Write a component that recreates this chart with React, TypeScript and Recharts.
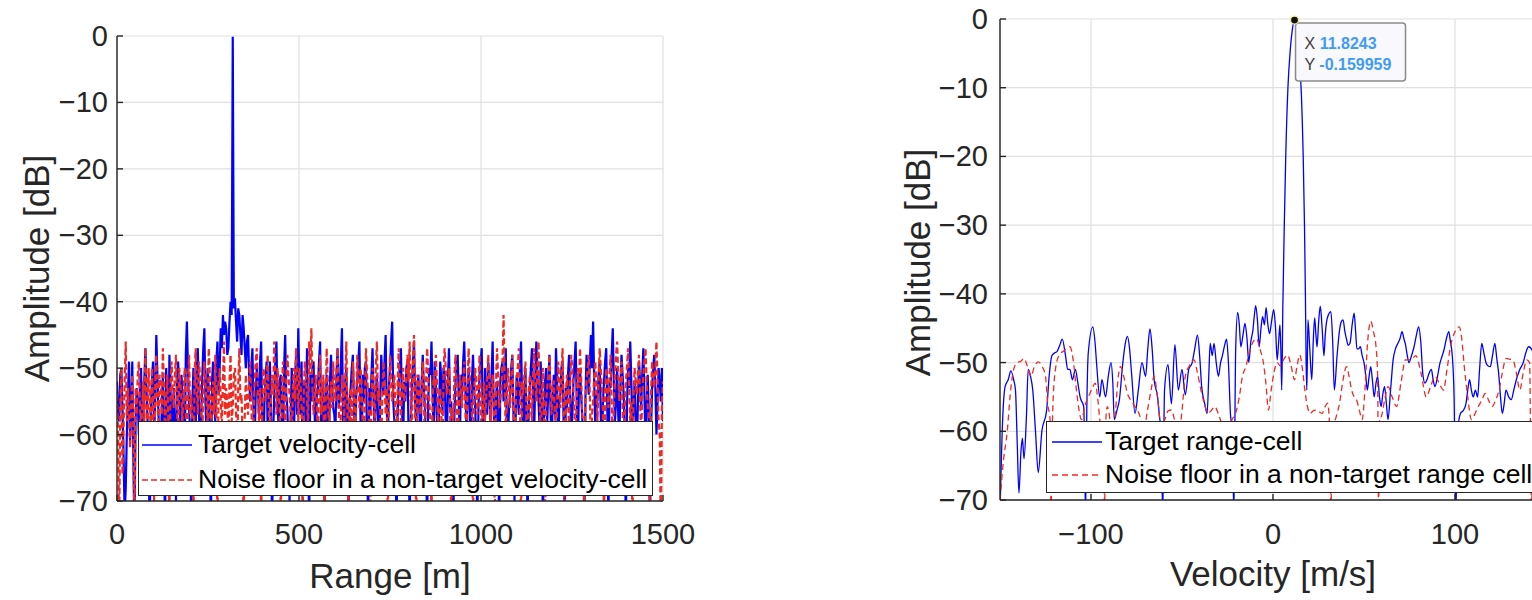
import React from 'react';
import { LineChart, Line, XAxis, YAxis, CartesianGrid, ReferenceDot, Legend, Label } from 'recharts';

// ---------- axis ticks ----------
const AMP_TICKS = [0, -10, -20, -30, -40, -50, -60, -70];
const RANGE_TICKS = [0, 500, 1000, 1500];
const VEL_TICKS = [-100, 0, 100];
const RANGE_STEP = 6; // metres between the even range bins; odd bins sit half a step later

// ---------- left panel: amplitude vs range (dB), even bins 0,6,12,...,1500 m ----------
const targetVelocityCell = [
  -52, -58, -50, -63, -68, -54, -61, -49, -75, -53,
  -60, -50, -66, -47, -58, -75, -52, -61, -45, -57,
  -63, -51, -75, -55, -48, -62, -53, -70, -49, -59,
  -54, -64, -43, -56, -75, -50, -60, -47, -66, -52,
  -44, -61, -53, -75, -49, -58, -46, -50, -47, -45,
  -44, -47, -40, -0.1, -39.5, -46, -42, -48, -44, -50,
  -45, -55, -47, -62, -50, -57, -46, -66, -52, -60,
  -49, -75, -54, -46, -59, -51, -63, -45, -56, -70,
  -50, -61, -48, -44, -57, -66, -52, -47, -75, -55,
  -49, -62, -53, -46, -58, -75, -51, -64, -48, -56,
  -60, -47, -54, -44, -66, -50, -75, -53, -48, -61,
  -52, -46, -63, -55, -49, -75, -57, -47, -60, -51,
  -65, -48, -54, -45, -61, -50, -43, -58, -75, -52,
  -47, -62, -55, -49, -75, -53, -46, -59, -51, -64,
  -48, -56, -75, -50, -46, -60, -53, -67, -49, -57,
  -51, -63, -47, -55, -75, -52, -48, -61, -54, -46,
  -59, -50, -66, -48, -56, -75, -51, -47, -62, -53,
  -49, -58, -46, -64, -52, -75, -50, -55, -47, -61,
  -54, -48, -70, -51, -57, -46, -63, -50, -75, -53,
  -47, -60, -46, -55, -49, -75, -52, -58, -48, -62,
  -51, -47, -65, -54, -49, -75, -56, -48, -60, -52,
  -46, -63, -50, -57, -75, -48, -54, -45, -43, -59,
  -55, -49, -66, -52, -47, -75, -53, -44, -58, -50,
  -61, -48, -54, -75, -50, -46, -59, -52, -64, -49,
  -56, -47, -62, -51, -75, -53, -48, -60, -50, -55,
  -58,
];
// odd bins 3,9,15,...,1497 m
const targetVelocityCellOdd = [
  -57, -51, -56, -72, -60, -49, -56, -64, -58, -55,
  -54, -59, -52, -53, -65, -56, -49, -54, -51, -62,
  -56, -60, -50, -65, -53, -57, -59, -52, -54, -51,
  -58, -48, -50, -60, -55, -57, -49, -55, -58, -47,
  -55, -50, -62, -52, -55, -49, -54, -44, -42, -43,
  -48, -43, -42, -41, -43, -41, -45, -42, -47, -46,
  -51, -50, -56, -54, -53, -49, -58, -55, -49, -54,
  -56, -60, -49, -55, -52, -57, -50, -54, -62, -58,
  -55, -52, -57, -52, -49, -53, -58, -60, -51, -50,
  -57, -54, -49, -60, -52, -56, -58, -52, -53, -57,
  -51, -56, -49, -57, -52, -59, -55, -50, -56, -54,
  -49, -58, -51, -50, -61, -53, -51, -55, -54, -58,
  -55, -52, -49, -56, -53, -46, -55, -62, -57, -50,
  -56, -52, -50, -60, -58, -49, -55, -53, -57, -52,
  -53, -62, -55, -51, -54, -49, -58, -56, -52, -50,
  -58, -52, -56, -62, -57, -50, -55, -51, -49, -53,
  -54, -57, -52, -53, -61, -56, -49, -58, -50, -57,
  -53, -51, -56, -55, -58, -52, -49, -53, -59, -56,
  -50, -56, -58, -54, -50, -55, -54, -59, -56, -50,
  -54, -52, -51, -59, -55, -58, -50, -53, -56, -55,
  -57, -52, -55, -50, -58, -53, -51, -54, -57, -49,
  -55, -53, -54, -62, -54, -51, -49, -50, -52, -54,
  -51, -57, -55, -49, -56, -52, -48, -52, -55, -57,
  -53, -51, -60, -56, -53, -52, -56, -58, -55, -52,
  -51, -54, -56, -57, -60, -50, -53, -55, -52, -50,
];

const noiseVelocityCell = [
  -54, -75, -50, -59, -46, -53, -62, -51, -75, -57,
  -49, -61, -52, -47, -64, -55, -50, -70, -48, -58,
  -53, -47, -60, -51, -75, -49, -56, -48, -63, -52,
  -58, -50, -66, -48, -54, -75, -47, -57, -51, -62,
  -49, -55, -47, -64, -52, -48, -75, -50, -59, -46,
  -53, -61, -48, -56, -50, -66, -47, -54, -75, -51,
  -57, -49, -63, -52, -47, -58, -75, -50, -55, -48,
  -62, -51, -46, -57, -53, -75, -49, -60, -48, -54,
  -66, -50, -47, -58, -52, -75, -49, -55, -46, -44,
  -57, -51, -63, -48, -54, -75, -47, -60, -52, -49,
  -55, -47, -64, -51, -58, -46, -75, -53, -49, -61,
  -48, -56, -52, -67, -47, -54, -75, -50, -59, -46,
  -53, -62, -49, -57, -75, -48, -55, -51, -64, -47,
  -58, -50, -54, -48, -46, -61, -45, -75, -52, -57,
  -49, -63, -47, -55, -75, -51, -48, -59, -53, -66,
  -47, -54, -50, -75, -58, -48, -62, -51, -56, -49,
  -64, -47, -53, -75, -50, -57, -48, -61, -52, -55,
  -48, -59, -51, -75, -47, -56, -53, -42, -60, -50,
  -56, -48, -63, -52, -47, -75, -54, -49, -60, -51,
  -58, -47, -55, -46, -62, -50, -75, -53, -48, -57,
  -52, -64, -49, -56, -47, -75, -51, -59, -48, -54,
  -61, -50, -47, -57, -75, -52, -48, -63, -55, -49,
  -58, -47, -53, -75, -50, -56, -48, -62, -51, -46,
  -55, -49, -67, -52, -47, -58, -75, -50, -54, -48,
  -60, -51, -47, -56, -75, -49, -53, -46, -58, -75,
  -52,
];
const noiseVelocityCellOdd = [
  -60, -56, -66, -52, -58, -57, -55, -60, -53, -51,
  -55, -56, -58, -53, -50, -59, -55, -52, -55, -51,
  -57, -53, -55, -58, -52, -54, -51, -56, -50, -55,
  -53, -56, -52, -57, -58, -51, -53, -49, -56, -54,
  -52, -59, -51, -55, -57, -56, -53, -55, -52, -57,
  -55, -52, -58, -51, -56, -53, -55, -60, -57, -55,
  -52, -55, -58, -49, -54, -53, -57, -51, -52, -56,
  -55, -54, -52, -50, -57, -53, -55, -52, -51, -57,
  -53, -55, -52, -50, -56, -54, -51, -59, -51, -53,
  -54, -55, -52, -57, -51, -56, -52, -55, -56, -53,
  -51, -55, -57, -53, -52, -57, -54, -60, -53, -56,
  -52, -50, -59, -55, -51, -58, -54, -53, -50, -55,
  -56, -54, -52, -53, -56, -51, -53, -57, -52, -54,
  -53, -55, -51, -52, -56, -49, -56, -51, -55, -52,
  -54, -52, -51, -58, -55, -53, -52, -56, -57, -51,
  -50, -52, -55, -56, -51, -54, -57, -53, -52, -56,
  -53, -51, -56, -54, -52, -53, -55, -56, -58, -51,
  -52, -54, -55, -53, -51, -55, -49, -52, -54, -53,
  -52, -55, -56, -50, -54, -52, -51, -57, -54, -56,
  -51, -52, -50, -53, -55, -57, -55, -51, -53, -52,
  -57, -55, -52, -51, -56, -54, -55, -52, -50, -57,
  -55, -53, -51, -58, -55, -50, -54, -57, -51, -53,
  -52, -50, -56, -54, -53, -51, -55, -56, -48, -51,
  -52, -56, -57, -50, -53, -55, -54, -52, -51, -55,
  -54, -49, -52, -57, -54, -51, -50, -52, -60, -56,
];

// ---------- right panel: amplitude vs velocity, [velocity m/s, amplitude dB] ----------
const targetRangeCell: [number, number][] = [
  [-150, -72], [-148.5, -58], [-147.2, -53.5], [-145.5, -52.5], [-144, -51.2], [-142.5, -52.5], [-141.5, -54],
  [-140.5, -62], [-139.6, -69], [-138.5, -63], [-137.7, -61], [-136.8, -64], [-135.5, -58], [-134.5, -51],
  [-133.2, -52], [-132, -54], [-130.5, -60], [-129, -66], [-127, -60], [-124.4, -57], [-123, -52], [-121.5, -49],
  [-120, -48.6], [-118.7, -48.4], [-117.2, -47.5], [-115.8, -46.6], [-114, -49], [-112.8, -51], [-111.6, -51],
  [-110.2, -52.5], [-108.6, -51], [-107.2, -53], [-106, -55], [-104, -56.4], [-103, -72], [-102.2, -55],
  [-101.5, -48.6], [-99, -44.8], [-97.8, -47], [-96.8, -50.6], [-95.2, -55], [-94, -52.5], [-92, -55],
  [-90.5, -52], [-89, -50], [-88, -53], [-87.2, -58.3], [-85.8, -57], [-84.4, -55.4], [-82.5, -50], [-81, -47],
  [-80, -46.2], [-78.8, -48], [-77.7, -51.6], [-75.8, -57.4], [-74, -54], [-72, -50], [-70, -52], [-68.8, -48],
  [-67.6, -45.1], [-66.4, -48], [-65.3, -52.5], [-63.4, -55], [-62.3, -58], [-61.5, -60], [-60.6, -72],
  [-59.6, -54], [-57.7, -50.3], [-55.8, -56], [-53.9, -47.4], [-52, -54], [-50, -51], [-48.2, -54.7],
  [-46.3, -51], [-44.4, -50], [-43, -48], [-41.5, -46], [-40.3, -49], [-39.2, -53.5], [-37.5, -56],
  [-36.2, -57.4], [-35.3, -52], [-34.5, -47.2], [-33.4, -49], [-32.4, -47.2], [-31.2, -50], [-30, -52],
  [-28.8, -50], [-27.8, -49], [-26.6, -47.5], [-25.5, -46.6], [-24.5, -50], [-23.4, -57.4], [-22.4, -60],
  [-21.5, -72], [-20.5, -48], [-19.4, -42.7], [-18.5, -44.5], [-17.7, -47.7], [-16.5, -46], [-15.4, -44.3],
  [-14.3, -46.5], [-13.3, -50], [-12.2, -47], [-11, -45.2], [-10.2, -43], [-9.5, -41.7], [-8.5, -44],
  [-7.6, -47.7], [-6.6, -45], [-5.7, -43.3], [-4.7, -44.5], [-3.8, -42], [-2.8, -44.5], [-1.9, -45.8],
  [-0.8, -44], [0.4, -42.3], [1.4, -45], [2.3, -49.6], [3.1, -47], [3.8, -44.5], [4.3, -48], [4.8, -54],
  [5.4, -42], [6.2, -30], [7.0, -20], [8.2, -10], [9.5, -4.5], [10.7, -1.4], [11.8243, -0.159959], [13.0, -1.6],
  [14.3, -5], [15.6, -11], [16.6, -20], [17.3, -30], [17.8, -40], [18.2, -50], [18.6, -54], [19.2, -43.8],
  [20.2, -48], [21.3, -52.5], [22.1, -47], [22.9, -43.5], [23.6, -46], [24.2, -47.7], [25.1, -44], [26, -41.8],
  [27, -45], [28, -49], [28.7, -46], [29.3, -44.3], [30.5, -43], [31.8, -42.6], [32.8, -47], [33.7, -54],
  [35.2, -49], [36.6, -45.2], [37.6, -44], [38.5, -43.8], [39.5, -45.5], [40.4, -46.6], [41.3, -47.5],
  [42.3, -47.2], [43.5, -44.5], [44.6, -42.8], [45.4, -45.5], [46.1, -48], [47.1, -48], [48, -47.7], [49, -49],
  [50, -50], [51, -52], [51.8, -54], [52.8, -52], [53.7, -50.6], [54.6, -52.5], [55.6, -55], [56.6, -53],
  [57.5, -52], [58.5, -55], [59.4, -56.4], [60.4, -54.5], [61.3, -53.5], [62.3, -56], [63.2, -58.3], [64.6, -54],
  [66, -49.6], [67.3, -48], [68.6, -47.2], [69.8, -46.5], [70.9, -45.5], [71.9, -46.5], [72.8, -47.4],
  [73.8, -49], [74.7, -50], [76.1, -49], [77.5, -47.7], [78.8, -46], [80, -44.8], [81.2, -47], [82.3, -51.6],
  [83.5, -53], [84.6, -52.5], [85.8, -51.5], [87, -51], [88, -52.5], [89, -53.5], [90.4, -52], [91.8, -50],
  [93, -49], [94, -48.1], [95.3, -46.5], [96.6, -45.5], [97.5, -47], [98.5, -49], [99.5, -55], [100.4, -72],
  [101.5, -60], [103, -57.4], [104.5, -57], [106, -56], [107, -54], [108, -52.5], [109, -54], [110, -55],
  [111.2, -54], [112.4, -55], [113.5, -51], [114.7, -47.2], [115.8, -48.5], [117, -50], [118.2, -50.5],
  [119.4, -50.6], [120.6, -49], [121.9, -47.2], [123, -49.5], [124, -51.6], [125, -55], [126, -57.4], [127, -56],
  [128, -54], [129.5, -55], [130.9, -55.4], [132.3, -54], [133.7, -52.5], [135.6, -51], [137.5, -50],
  [139, -48.5], [140.4, -47.7], [142, -48], [143.5, -49], [145, -50.5], [146.5, -52], [148, -54], [150, -56],
];

const noiseRangeCell: [number, number][] = [
  [-150, -70], [-148, -64], [-146, -60], [-144.5, -55], [-142.5, -51], [-140.5, -50], [-138.5, -49.8],
  [-136.8, -49.4], [-135, -50.5], [-133, -52], [-131, -50.5], [-129, -49.9], [-127, -50.5], [-125, -52],
  [-123.8, -56], [-122.5, -58.3], [-122, -72], [-121.3, -60], [-120, -52], [-117.7, -49], [-115, -48.3],
  [-111.6, -47.7], [-109.6, -50], [-108, -54], [-106.5, -57], [-105.3, -58.3], [-103, -56], [-100.6, -54.5],
  [-99, -53.5], [-97.7, -53], [-96.2, -55.5], [-94.9, -58.8], [-93, -60], [-92.6, -72], [-92, -59], [-91, -56.4],
  [-89.5, -58.5], [-88.2, -62], [-86.5, -57], [-85, -52], [-83.8, -50.6], [-82, -52], [-80, -54.5], [-78, -55.5],
  [-75.8, -56.4], [-73.5, -57.5], [-71, -59.8], [-69, -57], [-67, -54], [-65.3, -52], [-63.5, -55],
  [-61.5, -59.3], [-59, -58], [-57.5, -57], [-55.8, -56.9], [-54, -58.5], [-52, -60.7], [-50, -57],
  [-48.2, -52], [-46, -50.5], [-43.4, -49.6], [-41.5, -51.5], [-39.6, -54], [-37.7, -56], [-35.8, -57.4],
  [-34, -57], [-32, -56.4], [-30, -57.5], [-28, -59], [-26.3, -60.3], [-24.5, -59.5], [-22.5, -58.3],
  [-20.6, -57.4], [-18.5, -55], [-16.8, -52], [-14.9, -50.6], [-13, -48.5], [-11, -47], [-9.1, -46.5],
  [-7.2, -48], [-5.3, -50], [-3.9, -53], [-2.5, -56.9], [-1, -54], [0.5, -51.5], [2.3, -50], [4, -50.5],
  [6, -49.5], [8, -48.9], [10, -50.5], [11.8, -52.5], [13.2, -50.5], [14.7, -48.9], [16.2, -51], [17.5, -54],
  [19, -56.5], [20.4, -57.4], [22.3, -57], [24.2, -56.9], [25.6, -57.2], [27, -57.4], [28.5, -56.5], [30, -55.9],
  [31.2, -60], [31.8, -72], [32.5, -60], [34.7, -57.9], [36.5, -56], [38.5, -52.5], [40.4, -50.6], [41.8, -52],
  [43.2, -54], [44.6, -55], [46, -55.5], [47.5, -57], [49, -58.3], [50.5, -54], [52, -47], [53.7, -44],
  [55.2, -45.5], [56.6, -47.7], [57.5, -52], [58, -72], [58.6, -58], [59.4, -57.9], [61.3, -55.5], [63.2, -53.5],
  [65.5, -55], [67.9, -56.4], [70.3, -53], [72.8, -49.6], [75.6, -49.6], [78.5, -49], [81.3, -51.5], [84.2, -55],
  [86.6, -53.5], [89, -52], [91.3, -53], [93.7, -54], [95.6, -51], [97.5, -47.7], [100, -45.5], [102.3, -44.8],
  [103.7, -46.5], [105.1, -50.6], [107, -55], [109, -58.3], [110.9, -57.5], [112.8, -56.4], [114.7, -55.5],
  [116.6, -54.5], [118.5, -55.5], [120.4, -56.4], [122.3, -55.5], [124.2, -54], [126, -51.5], [128, -49.4],
  [129.9, -49.5], [131.8, -49.6], [133.7, -51.5], [135.6, -54], [137.5, -51.5], [139.4, -49.6], [141, -50],
  [142, -72], [143, -58], [145, -53], [147.5, -51], [150, -52],
];

// data tip on the target peak
const PEAK_VELOCITY = 11.8243;
const PEAK_AMPLITUDE = -0.159959;

// legend order (series order in the figure)
const SERIES_ORDER = ['target', 'noise'];

// ---------- tables built from the arrays ----------
const rangeData: { range: number; target: number; noise: number }[] = [];
targetVelocityCell.forEach((t, i) => {
  rangeData.push({ range: i * RANGE_STEP, target: t, noise: noiseVelocityCell[i] });
  if (i < targetVelocityCellOdd.length) {
    rangeData.push({
      range: i * RANGE_STEP + RANGE_STEP / 2,
      target: targetVelocityCellOdd[i],
      noise: noiseVelocityCellOdd[i],
    });
  }
});

const velocityData = [
  ...targetRangeCell.map(([v, a]) => ({ v, target: a })),
  ...noiseRangeCell.map(([v, a]) => ({ v, noise: a })),
].sort((a, b) => a.v - b.v);

// ---------- style ----------
const FONT = '"Liberation Sans", Arial, Helvetica, sans-serif';
const AXIS_COLOR = '#262626';
const GRID_COLOR = '#e0e0e0';
const BLUE = '#0000ff';
const RED = '#ee2a22';
const TICK_FS = 29;
const LABEL_FS = 35;
const LEGEND_FS = 26.5;

const fmt = (v: number) => String(v).replace('-', '\u2212');

const YTick = (p: any) => (
  <text x={p.x} y={p.y} textAnchor="end" dominantBaseline="central" fontSize={TICK_FS} fontFamily={FONT} fill={AXIS_COLOR}>
    {fmt(p.payload.value)}
  </text>
);
const XTick = (p: any) => (
  <text x={p.x} y={p.y} textAnchor="middle" dominantBaseline="central" fontSize={TICK_FS} fontFamily={FONT} fill={AXIS_COLOR}>
    {fmt(p.payload.value)}
  </text>
);
const NoTick = () => <g />;

const xTitle = (text: string, dy: number) => (props: any) => {
  const vb = props.viewBox || {};
  return (
    <text x={vb.x + vb.width / 2} y={vb.y + dy} textAnchor="middle" fontSize={LABEL_FS} fontFamily={FONT} fill={AXIS_COLOR}>
      {text}
    </text>
  );
};
const yTitle = (text: string, dx: number, dyc: number) => (props: any) => {
  const vb = props.viewBox || {};
  const x = vb.x + dx;
  const y = vb.y + vb.height / 2 + dyc;
  return (
    <text x={x} y={y} transform={`rotate(-90 ${x} ${y})`} textAnchor="middle" fontSize={LABEL_FS} fontFamily={FONT} fill={AXIS_COLOR}>
      {text}
    </text>
  );
};

const makeLegend = (padTop: number, rowH: number, padLeft: number, gap: number) => (props: any) => {
  const payload = [...(props.payload || [])].sort(
    (a: any, b: any) => SERIES_ORDER.indexOf(a.dataKey) - SERIES_ORDER.indexOf(b.dataKey)
  );
  return (
    <div
      style={{
        boxSizing: 'border-box',
        width: '100%',
        height: '100%',
        background: '#fff',
        border: `1.4px solid ${AXIS_COLOR}`,
        paddingTop: padTop,
        paddingLeft: padLeft,
        fontFamily: FONT,
        fontSize: LEGEND_FS,
        color: '#000',
        whiteSpace: 'nowrap',
        overflow: 'hidden',
      }}
    >
      {payload.map((e: any, i: number) => (
        <div key={i} style={{ display: 'flex', alignItems: 'center', height: rowH }}>
          <svg width={50} height={10} style={{ flex: 'none' }}>
            <line
              x1={0}
              y1={5}
              x2={50}
              y2={5}
              stroke={e.color}
              strokeWidth={1.5}
              strokeDasharray={e.payload && e.payload.strokeDasharray}
            />
          </svg>
          <span style={{ marginLeft: gap }}>{e.value}</span>
        </div>
      ))}
    </div>
  );
};

const DataTip = (p: any) => {
  const { cx, cy } = p;
  if (cx == null || cy == null) return null;
  return (
    <g>
      <rect x={cx + 1} y={cy + 3} width={110} height={58} rx={3} fill="#f8f8fd" stroke="#8a8a8a" strokeWidth={1.5} />
      <text x={cx + 10} y={cy + 29} fontSize={16} fontFamily={FONT}>
        <tspan fill="#404040">X </tspan>
        <tspan fill="#3f9cf2" fontWeight="bold">{String(PEAK_VELOCITY)}</tspan>
      </text>
      <text x={cx + 10} y={cy + 50} fontSize={16} fontFamily={FONT}>
        <tspan fill="#404040">Y </tspan>
        <tspan fill="#3f9cf2" fontWeight="bold">{String(PEAK_AMPLITUDE)}</tspan>
      </text>
      <circle cx={cx} cy={cy} r={4} fill="#111" stroke="#f4f0a0" strokeWidth={1.2} />
    </g>
  );
};

export default function App() {
  return (
    <div
      style={{
        position: 'absolute',
        left: 0,
        top: 0,
        width: 1532,
        height: 600,
        overflow: 'hidden',
        background: '#fff',
      }}
    >
      {/* Left panel */}
      <div style={{ position: 'absolute', left: 0, top: 0 }}>
        <LineChart width={700} height={600} data={rangeData} margin={{ top: 36, right: 37, bottom: 0, left: 0 }}>
          <CartesianGrid stroke={GRID_COLOR} strokeWidth={1.2} />
          <XAxis
            dataKey="range"
            type="number"
            domain={[0, 1500]}
            ticks={RANGE_TICKS}
            allowDataOverflow
            height={99}
            tickSize={-6}
            tickMargin={39}
            tick={XTick}
            stroke={AXIS_COLOR}
            strokeWidth={1.4}
          >
            <Label content={xTitle('Range [m]', 87)} />
          </XAxis>
          <XAxis
            xAxisId="top"
            orientation="top"
            dataKey="range"
            type="number"
            domain={[0, 1500]}
            ticks={RANGE_TICKS}
            allowDataOverflow
            height={0}
            tickSize={-6}
            tick={NoTick}
            stroke={AXIS_COLOR}
            strokeWidth={1.4}
          />
          <YAxis
            type="number"
            domain={[-70, 0]}
            ticks={AMP_TICKS}
            allowDataOverflow
            width={117}
            tickSize={-6}
            tickMargin={15}
            tick={YTick}
            stroke={AXIS_COLOR}
            strokeWidth={1.4}
          >
            <Label content={yTitle('Amplitude [dB]', 49, 0)} />
          </YAxis>
          <YAxis
            yAxisId="right"
            orientation="right"
            type="number"
            domain={[-70, 0]}
            ticks={AMP_TICKS}
            allowDataOverflow
            width={0}
            tickSize={-6}
            tick={NoTick}
            stroke={AXIS_COLOR}
            strokeWidth={1.4}
          />
          <Line
            name="Target velocity-cell"
            dataKey="target"
            type="linear"
            stroke={BLUE}
            strokeWidth={2.2}
            dot={false}
            activeDot={false}
            isAnimationActive={false}
          />
          <Line
            name="Noise floor in a non-target velocity-cell"
            dataKey="noise"
            type="linear"
            stroke={RED}
            strokeWidth={2.2}
            strokeDasharray="6 3"
            dot={false}
            activeDot={false}
            isAnimationActive={false}
          />
          <Legend
            layout="vertical"
            align="center"
            verticalAlign="middle"
            content={makeLegend(5, 35, 3, 6)}
            wrapperStyle={{ position: 'absolute', left: 138, top: 421, width: 515, height: 75 }}
          />
        </LineChart>
      </div>

      {/* Right panel */}
      <div style={{ position: 'absolute', left: 860, top: 0 }}>
        <LineChart width={720} height={600} data={velocityData} margin={{ top: 19, right: 34, bottom: 0, left: 0 }}>
          <CartesianGrid stroke={GRID_COLOR} strokeWidth={1.2} />
          <XAxis
            dataKey="v"
            type="number"
            domain={[-150, 150]}
            ticks={VEL_TICKS}
            allowDataOverflow
            height={100}
            tickSize={-6}
            tickMargin={40}
            tick={XTick}
            stroke={AXIS_COLOR}
            strokeWidth={1.4}
          >
            <Label content={xTitle('Velocity [m/s]', 86)} />
          </XAxis>
          <XAxis
            xAxisId="top"
            orientation="top"
            dataKey="v"
            type="number"
            domain={[-150, 150]}
            ticks={VEL_TICKS}
            allowDataOverflow
            height={0}
            tickSize={-6}
            tick={NoTick}
            stroke={AXIS_COLOR}
            strokeWidth={1.4}
          />
          <YAxis
            type="number"
            domain={[-70, 0]}
            ticks={AMP_TICKS}
            allowDataOverflow
            width={140}
            tickSize={-6}
            tickMargin={18}
            tick={YTick}
            stroke={AXIS_COLOR}
            strokeWidth={1.4}
          >
            <Label content={yTitle('Amplitude [dB]', 70, 3)} />
          </YAxis>
          <YAxis
            yAxisId="right"
            orientation="right"
            type="number"
            domain={[-70, 0]}
            ticks={AMP_TICKS}
            allowDataOverflow
            width={0}
            tickSize={-6}
            tick={NoTick}
            stroke={AXIS_COLOR}
            strokeWidth={1.4}
          />
          <Line
            name="Target range-cell"
            dataKey="target"
            type="monotone"
            connectNulls
            stroke={BLUE}
            strokeWidth={1.3}
            dot={false}
            activeDot={false}
            isAnimationActive={false}
          />
          <Line
            name="Noise floor in a non-target range cell"
            dataKey="noise"
            type="monotone"
            connectNulls
            stroke={RED}
            strokeWidth={1.3}
            strokeDasharray="6 4"
            dot={false}
            activeDot={false}
            isAnimationActive={false}
          />
          <ReferenceDot x={PEAK_VELOCITY} y={PEAK_AMPLITUDE} r={4} shape={DataTip} />
          <Legend
            layout="vertical"
            align="center"
            verticalAlign="middle"
            content={makeLegend(3, 33, 5, 3)}
            wrapperStyle={{ position: 'absolute', left: 186, top: 421, width: 540, height: 72 }}
          />
        </LineChart>
      </div>
    </div>
  );
}
